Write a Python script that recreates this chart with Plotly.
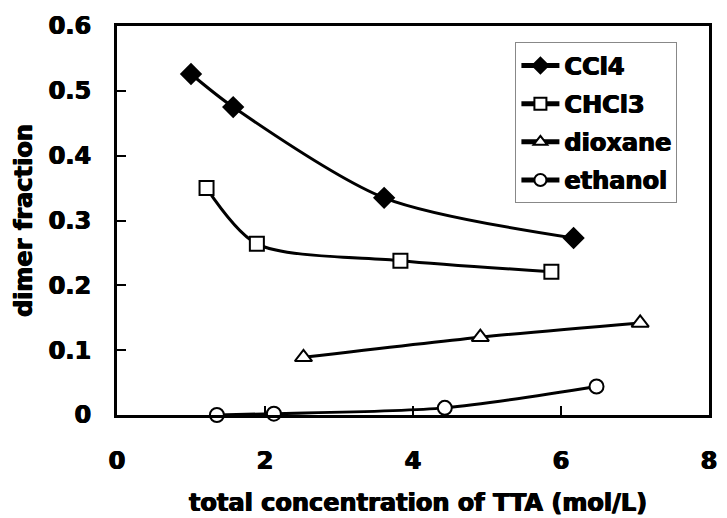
import plotly.graph_objects as go

# Dimer fraction of TTA versus total TTA concentration in four solvents
ccl4_x = [1.0, 1.57, 3.61, 6.17]
ccl4_y = [0.526, 0.475, 0.335, 0.273]

chcl3_x = [1.21, 1.89, 3.83, 5.87]
chcl3_y = [0.350, 0.264, 0.238, 0.221]

dioxane_x = [2.52, 4.91, 7.07]
dioxane_y = [0.089, 0.120, 0.142]

ethanol_x = [1.35, 2.12, 4.43, 6.48]
ethanol_y = [0.0, 0.002, 0.011, 0.044]

x_ticks = [0, 2, 4, 6, 8]
y_ticks = [0, 0.1, 0.2, 0.3, 0.4, 0.5, 0.6]
y_tick_text = ["0", "0.1", "0.2", "0.3", "0.4", "0.5", "0.6"]

FONT = "DejaVu Sans"
BOLD = dict(family=FONT, size=24, color="black", weight="bold",
            shadow="0.6px 0 0 black, -0.6px 0 0 black")

series = [
    ("CCl4", ccl4_x, ccl4_y, "diamond", "black", 15),
    ("CHCl3", chcl3_x, chcl3_y, "square", "white", 14),
    ("dioxane", dioxane_x, dioxane_y, "triangle-up", "white", 15),
    ("ethanol", ethanol_x, ethanol_y, "circle", "white", 14),
]

fig = go.Figure()
for name, xs, ys, sym, fill, size in series:
    fig.add_trace(go.Scatter(
        x=xs, y=ys, name=name, legendgroup=name,
        mode="lines+markers",
        line=dict(color="black", width=3, shape="spline", smoothing=0.8),
        marker=dict(symbol=sym, size=size, color=fill,
                    line=dict(color="black", width=2)),
        cliponaxis=False,
    ))

fig.update_layout(
    width=727, height=518,
    margin=dict(l=117, r=10, t=26, b=103),
    paper_bgcolor="white", plot_bgcolor="white",
    font=BOLD,
    showlegend=True,
    legend=dict(
        x=0.673, y=0.958, xanchor="left", yanchor="top",
        bgcolor="white", bordercolor="#888888", borderwidth=1,
        font=BOLD, itemsizing="constant",
        tracegroupgap=4, itemwidth=38,
    ),
    xaxis=dict(
        range=[0, 8], tickvals=x_ticks, ticktext=[str(v) for v in x_ticks],
        ticks="inside", ticklen=9, tickwidth=2, tickcolor="black",
        showline=True, linecolor="black", linewidth=3, mirror=True,
        showgrid=False, zeroline=False, ticklabelstandoff=22,
        tickfont=BOLD,
    ),
    yaxis=dict(
        range=[0, 0.6], tickvals=y_ticks, ticktext=y_tick_text,
        ticks="inside", ticklen=9, tickwidth=2, tickcolor="black",
        showline=True, linecolor="black", linewidth=3, mirror=True,
        showgrid=False, zeroline=False, ticklabelstandoff=18,
        tickfont=BOLD,
    ),
    annotations=[
        dict(text="total concentration of TTA (mol/L)", xref="paper", yref="paper",
             x=0.508, y=-0.227, xanchor="center", yanchor="middle", showarrow=False,
             font=BOLD),
        dict(text="dimer fraction", xref="paper", yref="paper",
             x=-0.158, y=0.5, xanchor="center", yanchor="middle", showarrow=False,
             textangle=-90, font=BOLD),
    ],
)

fig.write_html("out.html")
